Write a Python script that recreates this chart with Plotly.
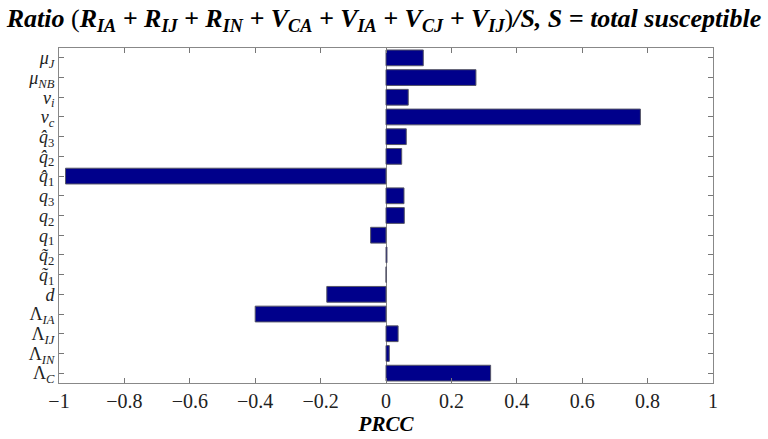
import plotly.graph_objects as go

params = [
    "<i>μ</i><sub><i>J</i></sub>",
    "<i>μ</i><sub><i>NB</i></sub>",
    "<i>ν</i><sub><i>i</i></sub>",
    "<i>ν</i><sub><i>c</i></sub>",
    "<i>q̂</i><sub>3</sub>",
    "<i>q̂</i><sub>2</sub>",
    "<i>q̂</i><sub>1</sub>",
    "<i>q</i><sub>3</sub>",
    "<i>q</i><sub>2</sub>",
    "<i>q</i><sub>1</sub>",
    "<i>q̃</i><sub>2</sub>",
    "<i>q̃</i><sub>1</sub>",
    "<i>d</i>",
    "Λ<sub><i>IA</i></sub>",
    "Λ<sub><i>IJ</i></sub>",
    "Λ<sub><i>IN</i></sub>",
    "Λ<sub><i>C</i></sub>",
]
prcc = [0.114, 0.275, 0.068, 0.778, 0.062, 0.048, -0.98, 0.055, 0.056,
        -0.047, 0.003, 0.0005, -0.181, -0.40, 0.037, 0.01, 0.32]
xticks = [-1, -0.8, -0.6, -0.4, -0.2, 0, 0.2, 0.4, 0.6, 0.8, 1]
xticklabels = ["−1", "−0.8", "−0.6", "−0.4", "−0.2", "0", "0.2", "0.4", "0.6", "0.8", "1"]

title = ("<b><i>Ratio</i></b> (<b><i>R<sub>IA</sub> + R<sub>IJ</sub> + R<sub>IN</sub> + V<sub>CA</sub> + V<sub>IA</sub> + "
         "V<sub>CJ</sub> + V<sub>IJ</sub></i></b>)"
         "<b><i>/S, S = total susceptible</i></b>")

fig = go.Figure(go.Bar(
    x=prcc, y=params, orientation="h", width=0.8,
    marker=dict(color="#00008B", line=dict(color="#555566", width=1)),
))

fig.update_layout(
    width=768, height=439,
    margin=dict(l=59, r=55, t=48, b=56, autoexpand=False),
    paper_bgcolor="white", plot_bgcolor="white",
    font=dict(family="Liberation Serif", color="#222222", size=18),
    title=dict(text=title, x=0.5, xanchor="center", y=0.98, yanchor="top",
               font=dict(family="Liberation Serif", size=26, color="black")),
    showlegend=False,
)
fig.update_xaxes(
    range=[-1, 1], tickmode="array", tickvals=xticks, ticktext=xticklabels,
    ticks="inside", ticklen=5, tickcolor="#777777", mirror="ticks",
    showline=True, linecolor="#888888", linewidth=1, showgrid=False,
    zeroline=True, zerolinecolor="#888888", zerolinewidth=1,
    automargin=False,
    tickfont=dict(size=20, family="Liberation Serif", color="#222222"),
    title=dict(text="<b><i>PRCC</i></b>", font=dict(size=21, family="Liberation Serif", color="black"), standoff=4),
)
fig.update_yaxes(
    type="category", categoryorder="array", categoryarray=params,
    tickmode="array", tickvals=params, ticktext=params,
    range=[16.5, -0.5],
    ticks="inside", ticklen=5, tickcolor="#777777", mirror="ticks",
    showline=True, linecolor="#888888", linewidth=1, showgrid=False,
    automargin=False,
    tickfont=dict(size=18, family="Liberation Serif", color="#222222"),
)

fig.write_html("out.html", config={"displayModeBar": False},
               post_script="document.body.style.margin='0px';")
